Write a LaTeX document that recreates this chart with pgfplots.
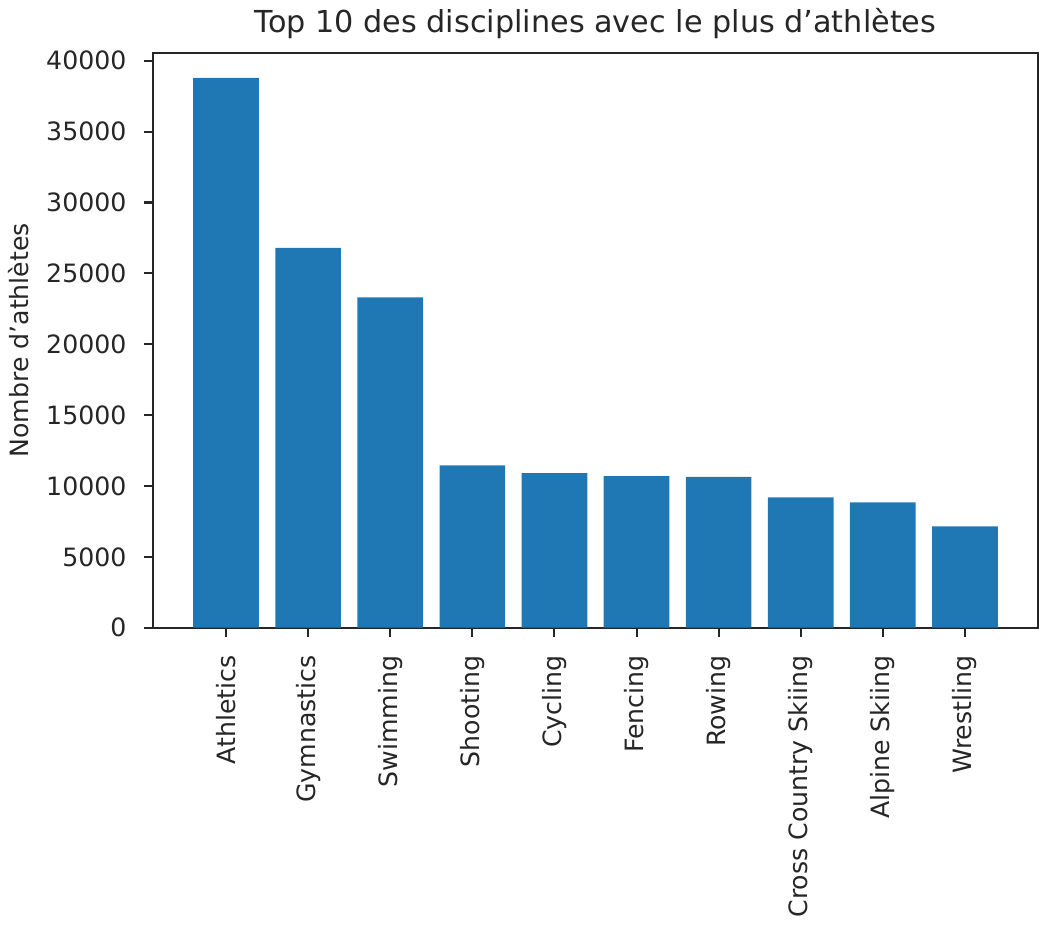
\documentclass[border=0pt]{standalone}
\usepackage{fontspec}
\setmainfont{DejaVu Sans}
\usepackage{pgfplots}
\pgfplotsset{compat=1.18}
\definecolor{mplblue}{HTML}{1F77B4}
\definecolor{txt}{HTML}{262626}
\begin{document}
\begin{tikzpicture}
\begin{axis}[
scale only axis,
width=351pt, height=228pt,
ybar, bar width=0.8,
xmin=-0.89, xmax=9.89,
ymin=0, ymax=40560,
xtick=data,
xticklabels={Athletics,Gymnastics,Swimming,Shooting,Cycling,Fencing,Rowing,Cross Country Skiing,Alpine Skiing,Wrestling},
xticklabel style={rotate=90, anchor=east, font=\fontsize{10}{12}\selectfont, text=txt},
xticklabel shift=4pt,
ytick={0,5000,...,40000},
yticklabel style={font=\fontsize{10}{12}\selectfont, text=txt},
yticklabel shift=3.5pt,
scaled y ticks=false,
/pgf/number format/.cd, 1000 sep={}, assume math mode=true, /pgfplots/.cd,
tick pos=left, tick align=outside,
major tick length=3.5pt,
tick style={line width=0.8pt, color=txt},
axis line style={line width=0.8pt, color=txt},
ylabel={Nombre d'athlètes},
ylabel style={font=\fontsize{10}{12}\selectfont, text=txt},
title={Top 10 des disciplines avec le plus d'athlètes},
title style={font=\fontsize{12}{14}\selectfont, text=txt, yshift=-4pt},
]
\addplot[fill=mplblue, draw=none] coordinates {
(0,38800) (1,26800) (2,23300) (3,11450) (4,10900)
(5,10700) (6,10650) (7,9200) (8,8850) (9,7150)};
\end{axis}
\end{tikzpicture}
\end{document}
